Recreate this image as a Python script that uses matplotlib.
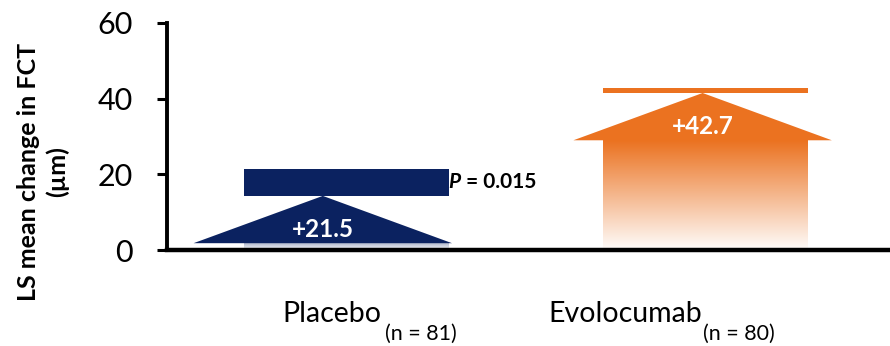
import numpy as np
import matplotlib
matplotlib.use("Agg")
import matplotlib.pyplot as plt
from matplotlib.colors import LinearSegmentedColormap
from matplotlib.patches import Polygon, Rectangle

plt.rcParams["font.family"] = ["Lato", "DejaVu Sans"]

groups = ["Placebo", "Evolocumab"]
n_labels = ["(n = 81)", "(n = 80)"]
changes = [21.5, 42.7]
value_labels = ["+21.5", "+42.7"]
p_label = "0.015"
yticks = [0, 20, 40, 60]

NAVY = "#0B2260"
ORANGE = "#EB7220"
colors = [NAVY, ORANGE]

# arrow geometry (data units)
bar_w = 0.571
head_w = 0.72
head_h = 12.5
cap_depth = [7.2, 1.2]
head_shift = [-0.066, -0.008]
body_top_tint = [0.32, 1.0]       # how strong the colour is at the top of the faded body
name_x = [-0.18, 0.561]
n_x = [0.108, 0.993]

fig = plt.figure(figsize=(8.9, 3.46), dpi=100)
ax = fig.add_axes([167 / 890, 1 - 250 / 346, 1 - 167 / 890, 227 / 346])

for i, (v, c) in enumerate(zip(changes, colors)):
    x0 = i - bar_w / 2
    cap_bot = v - cap_depth[i]
    base = cap_bot - head_h
    # faded body
    cmap = LinearSegmentedColormap.from_list("fade", ["white", c])
    grad = np.linspace(body_top_tint[i], 0.02, 200).reshape(-1, 1)
    ax.imshow(grad, cmap=cmap, vmin=0, vmax=1, extent=[x0, x0 + bar_w, 0, base],
              aspect="auto", origin="upper", zorder=1, interpolation="bilinear")
    # arrow head
    hx = i + head_shift[i]
    ax.add_patch(Polygon([[hx - head_w / 2, base], [hx + head_w / 2, base], [hx, cap_bot]],
                         closed=True, facecolor=c, edgecolor="none", zorder=2))
    # cap strip up to the value
    ax.add_patch(Rectangle((x0, cap_bot), bar_w, v - cap_bot, facecolor=c,
                           edgecolor="none", zorder=2))
    ax.text(hx, base + head_h * 0.3, value_labels[i], color="white", fontsize=17.5,
            fontweight="bold", ha="center", va="center", zorder=3)

# group labels, sample size set lower to the right
trans = ax.get_xaxis_transform()
for i, g in enumerate(groups):
    ax.text(name_x[i], -0.317, g, transform=trans, fontsize=20.5,
            ha="left", va="baseline", clip_on=False)
    ax.text(n_x[i], -0.397, n_labels[i], transform=trans, fontsize=15.5,
            ha="left", va="baseline", clip_on=False)

# significance text
pt = ax.text(0.284, 18.0, "P", fontsize=15, fontweight="bold", fontstyle="italic",
             ha="left", va="center")
ax.annotate(" = " + p_label, xy=(1, 0), xycoords=pt, fontsize=15, fontweight="bold",
            ha="left", va="bottom")

ax.set_xlim(-0.5, 1.514)
ax.set_ylim(0, 60)
ax.set_yticks(yticks)
ax.set_xticks([])
ax.tick_params(axis="y", labelsize=22, length=7.5, width=2.2, pad=17)
for s in ["top", "right"]:
    ax.spines[s].set_visible(False)
ax.spines["left"].set_linewidth(2.8)
ax.spines["bottom"].set_linewidth(3.2)
ax.spines["left"].set_bounds(0, 60)

fig.text(43 / 890, 1 - 172 / 346, "LS mean change in FCT\n(µm)", rotation=90,
         fontsize=18, fontweight="bold", ha="center", va="center", linespacing=1.3)

fig.savefig("out.png", dpi=100)
